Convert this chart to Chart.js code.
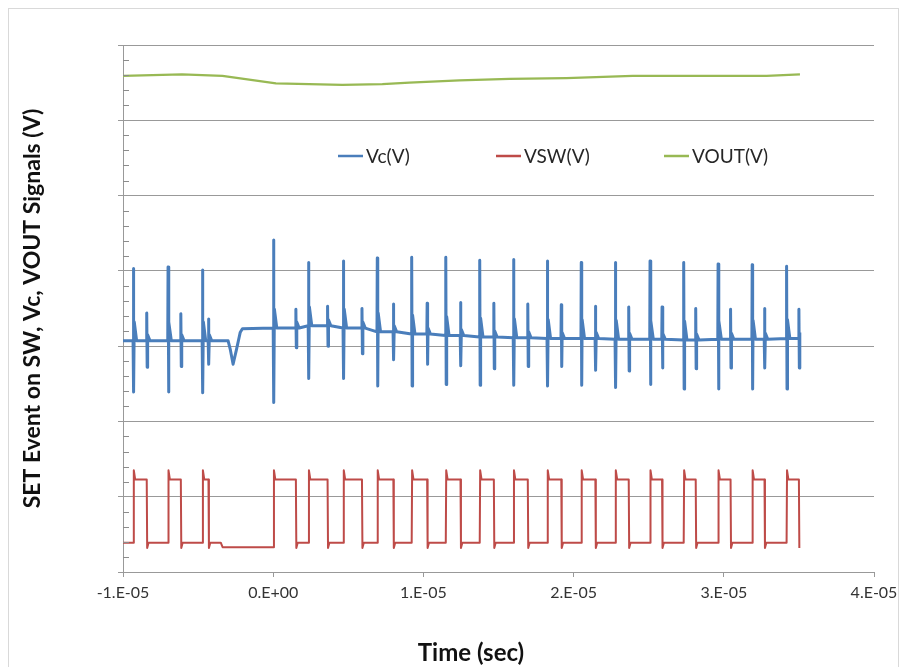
<!DOCTYPE html>
<html lang="en">
<head>
<meta charset="UTF-8">
<title>SET Event on SW, Vc, VOUT</title>
<script src="https://cdn.jsdelivr.net/npm/chart.js"></script>
<style>
  html, body { margin: 0; padding: 0; background: #fff; }
</style>
</head>
<body>
<canvas id="grafico" width="906" height="667"></canvas>

<script>
    // tempo em microssegundos; os rotulos do eixo mostram segundos
    var xTickLabels = ['-1.E-05', '0.E+00', '1.E-05', '2.E-05', '3.E-05', '4.E-05'];
    var legendLabels = ['Vc(V)', 'VSW(V)', 'VOUT(V)'];

    // VSW: bordas de subida e descida (us)
    var swRise = [-9.31, -7.0, -4.71, 0.02, 2.35, 4.67, 6.93, 9.22, 11.49, 13.75, 16.0, 18.25, 20.51, 22.78, 25.09, 27.33, 29.62, 31.89, 34.18];
    var swFall = [-8.42, -6.15, -4.31, 1.51, 3.62, 5.91, 8.0, 10.25, 12.47, 14.69, 16.95, 19.18, 21.45, 23.67, 25.89, 28.13, 30.45, 32.71, 35.0];
    var swStart = -10.0;
    var swHigh = 1.23, swLow = 0.39, swPeak = 1.35, swDip = 0.32;
    var swIdleStart = -3.49, swIdle = 0.33;

    // Vc: nivel de base em cada ciclo e picos nas bordas do VSW
    var vcBase   = [3.07, 3.07, 3.07, 3.24, 3.27, 3.24, 3.19, 3.16, 3.14, 3.12, 3.11, 3.10, 3.10, 3.09, 3.09, 3.08, 3.09, 3.09, 3.10];
    var vcRiseHi = [4.03, 4.05, 4.01, 4.41, 4.11, 4.13, 4.17, 4.18, 4.18, 4.14, 4.15, 4.13, 4.11, 4.11, 4.13, 4.11, 4.09, 4.08, 4.06];
    var vcRiseLo = [2.39, 2.39, 2.38, 2.25, 2.57, 2.57, 2.47, 2.47, 2.49, 2.48, 2.48, 2.47, 2.48, 2.45, 2.49, 2.43, 2.43, 2.43, 2.43];
    var vcFallHi = [3.44, 3.43, 3.36, 3.49, 3.53, 3.50, 3.56, 3.57, 3.58, 3.57, 3.56, 3.55, 3.53, 3.52, 3.52, 3.50, 3.49, 3.50, 3.49];
    var vcFallLo = [2.72, 2.73, 2.76, 2.98, 3.00, 2.90, 2.82, 2.76, 2.74, 2.70, 2.73, 2.73, 2.68, 2.67, 2.71, 2.70, 2.71, 2.71, 2.71];
    // afundamento do Vc antes do evento
    var vcDipT = [-3.0, -2.85, -2.67, -2.45, -2.2, -2.05];
    var vcDipV = [3.07, 2.95, 2.76, 2.95, 3.18, 3.23];

    // VOUT
    var voutT = [-10.0, -6.07, -3.38, 0.18, 4.6, 7.27, 9.07, 12.4, 15.73, 19.51, 23.93, 28.4, 32.85, 35.07];
    var voutV = [6.59, 6.61, 6.59, 6.49, 6.47, 6.48, 6.50, 6.53, 6.55, 6.56, 6.59, 6.59, 6.59, 6.61];

    var corVc = '#4A7EBB', corSw = '#BE4B48', corVout = '#98B954';

    function montarVsw() {
        var pts = [{ x: swStart, y: swLow }];
        var nivel = swLow;
        for (var i = 0; i < swRise.length; i++) {
            pts.push({ x: swRise[i], y: nivel });
            pts.push({ x: swRise[i] + 0.03, y: swPeak });
            pts.push({ x: swRise[i] + 0.12, y: swHigh });
            pts.push({ x: swFall[i], y: swHigh });
            pts.push({ x: swFall[i] + 0.03, y: swDip });
            if (i < swRise.length - 1) pts.push({ x: swFall[i] + 0.12, y: swLow });
            nivel = swLow;
            if (swFall[i] < swIdleStart && swRise[i + 1] > swIdleStart) {
                pts.push({ x: swIdleStart, y: swLow });
                pts.push({ x: swIdleStart + 0.12, y: swIdle });
                nivel = swIdle;
            }
        }
        return pts;
    }

    function pico(pts, t, base, hi, lo, cauda) {
        pts.push({ x: t - 0.02, y: base });
        pts.push({ x: t, y: hi });
        pts.push({ x: t + 0.03, y: lo });
        pts.push({ x: t + 0.06, y: base + cauda });
        pts.push({ x: t + 0.22, y: base });
    }

    function montarVc() {
        var pts = [{ x: swStart, y: vcBase[0] }];
        for (var i = 0; i < swRise.length; i++) {
            pico(pts, swRise[i], vcBase[i], vcRiseHi[i], vcRiseLo[i], 0.25);
            pico(pts, swFall[i], vcBase[i], vcFallHi[i], vcFallLo[i], 0.08);
            if (swFall[i] < vcDipT[0] && swRise[i + 1] > vcDipT[0]) {
                for (var k = 0; k < vcDipT.length; k++) pts.push({ x: vcDipT[k], y: vcDipV[k] });
            }
        }
        pts.pop();
        return pts;
    }

    function montarVout() {
        var pts = [];
        for (var i = 0; i < voutT.length; i++) pts.push({ x: voutT[i], y: voutV[i] });
        return pts;
    }

    var extras = {
        id: 'extras',
        beforeDraw: function (chart) {
            var ctx = chart.ctx;
            ctx.save();
            ctx.fillStyle = '#fff';
            ctx.fillRect(0, 0, chart.width, chart.height);
            ctx.strokeStyle = '#d9d9d9';
            ctx.lineWidth = 1;
            ctx.strokeRect(8.5, 8.5, 890, 680);
            ctx.restore();
        },
        afterDraw: function (chart) {
            var ctx = chart.ctx;
            var area = chart.chartArea;
            var y = chart.scales.y;
            ctx.save();
            // marcas menores do eixo y
            ctx.strokeStyle = '#8c8c8c';
            ctx.lineWidth = 1;
            ctx.beginPath();
            for (var k = 1; k < 35; k++) {
                if (k % 5 === 0) continue;
                var py = Math.round(y.getPixelForValue(k / 5)) + 0.5;
                ctx.moveTo(area.left, py);
                ctx.lineTo(area.left + 6, py);
            }
            ctx.stroke();

            // legenda
            var cores = [corVc, corSw, corVout];
            var xs = [338, 496, 664];
            ctx.font = '19px Lato';
            ctx.textBaseline = 'middle';
            ctx.textAlign = 'left';
            for (var i = 0; i < legendLabels.length; i++) {
                ctx.strokeStyle = cores[i];
                ctx.lineWidth = 2.5;
                ctx.beginPath();
                ctx.moveTo(xs[i], 156);
                ctx.lineTo(xs[i] + 25, 156);
                ctx.stroke();
                ctx.fillStyle = '#262626';
                ctx.fillText(legendLabels[i], xs[i] + 28, 157);
            }

            // titulo do eixo x
            ctx.font = 'bold 24px Lato';
            ctx.textAlign = 'center';
            ctx.fillStyle = '#111';
            ctx.fillText('Time (sec)', 471, 653);
            ctx.restore();
        }
    };

    new Chart(document.getElementById('grafico'), {
        type: 'scatter',
        data: {
            datasets: [{
                label: legendLabels[0],
                data: montarVc(),
                borderColor: corVc,
                borderWidth: 3
            }, {
                label: legendLabels[1],
                data: montarVsw(),
                borderColor: corSw,
                borderWidth: 2
            }, {
                label: legendLabels[2],
                data: montarVout(),
                borderColor: corVout,
                borderWidth: 2.2
            }]
        },
        options: {
            responsive: false,
            animation: false,
            showLine: true,
            elements: {
                point: { radius: 0 },
                line: { tension: 0, fill: false, borderJoinStyle: 'round' }
            },
            layout: { padding: { left: 0, right: 32, top: 45, bottom: 0 } },
            plugins: {
                legend: { display: false },
                tooltip: { enabled: false }
            },
            scales: {
                x: {
                    type: 'linear',
                    min: -10,
                    max: 40,
                    afterFit: function (s) { s.height = 95; },
                    ticks: {
                        stepSize: 10,
                        padding: 6,
                        color: '#333',
                        font: { family: 'Lato', size: 16 },
                        maxRotation: 0,
                        callback: function (v, i) { return xTickLabels[i]; }
                    },
                    grid: { drawOnChartArea: false, drawTicks: true, tickLength: 5, color: '#999' },
                    border: { color: '#999' }
                },
                y: {
                    min: 0,
                    max: 7,
                    afterFit: function (s) { s.width = 123; },
                    ticks: { stepSize: 1, display: false },
                    grid: { color: '#999', tickLength: 5, drawTicks: true },
                    border: { color: '#999' },
                    title: {
                        display: true,
                        text: 'SET Event on SW, Vc, VOUT Signals (V)',
                        color: '#111',
                        font: { family: 'Lato', size: 23, weight: 'bold' },
                        padding: { top: 19, bottom: 0 }
                    }
                }
            }
        },
        plugins: [extras]
    });
</script>
</body>
</html>
